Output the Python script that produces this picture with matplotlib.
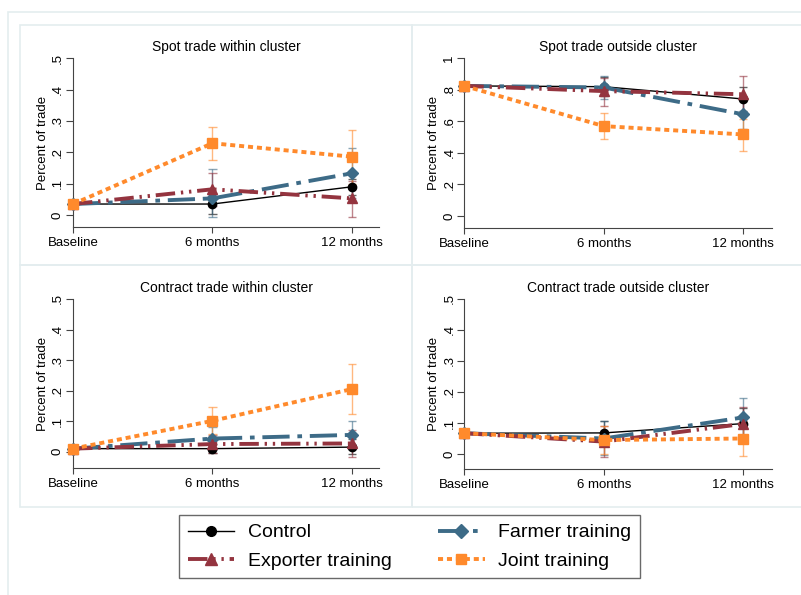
import numpy as np
import matplotlib
matplotlib.use('Agg')
import matplotlib.pyplot as plt
from matplotlib.patches import Rectangle
from matplotlib.lines import Line2D

plt.rcParams['font.family'] = ['Liberation Sans', 'DejaVu Sans']

periods = ['Baseline', '6 months', '12 months']
groups = ['Control', 'Exporter training', 'Farmer training', 'Joint training']

# Spot trade within cluster: mean, lower, upper
sw_mean = {'Control': [0.035, 0.035, 0.090], 'Exporter training': [0.035, 0.082, 0.053],
           'Farmer training': [0.035, 0.053, 0.133], 'Joint training': [0.035, 0.229, 0.186]}
sw_lo = {'Control': [0.035, 0.002, 0.065], 'Exporter training': [0.035, 0.030, -0.005],
         'Farmer training': [0.035, -0.005, 0.055], 'Joint training': [0.035, 0.177, 0.100]}
sw_hi = {'Control': [0.035, 0.068, 0.115], 'Exporter training': [0.035, 0.133, 0.110],
         'Farmer training': [0.035, 0.147, 0.213], 'Joint training': [0.035, 0.281, 0.272]}

# Spot trade outside cluster
so_mean = {'Control': [0.825, 0.820, 0.742], 'Exporter training': [0.825, 0.792, 0.772],
           'Farmer training': [0.825, 0.815, 0.645], 'Joint training': [0.825, 0.570, 0.517]}
so_lo = {'Control': [0.825, 0.760, 0.665], 'Exporter training': [0.825, 0.700, 0.645],
         'Farmer training': [0.825, 0.745, 0.550], 'Joint training': [0.825, 0.490, 0.415]}
so_hi = {'Control': [0.825, 0.880, 0.820], 'Exporter training': [0.825, 0.875, 0.885],
         'Farmer training': [0.825, 0.885, 0.740], 'Joint training': [0.825, 0.650, 0.615]}

# Contract trade within cluster
cw_mean = {'Control': [0.010, 0.010, 0.015], 'Exporter training': [0.010, 0.025, 0.027],
           'Farmer training': [0.010, 0.043, 0.055], 'Joint training': [0.010, 0.101, 0.205]}
cw_lo = {'Control': [0.010, -0.005, -0.008], 'Exporter training': [0.010, -0.005, -0.018],
         'Farmer training': [0.010, 0.005, 0.010], 'Joint training': [0.010, 0.058, 0.124]}
cw_hi = {'Control': [0.010, 0.025, 0.040], 'Exporter training': [0.010, 0.055, 0.070],
         'Farmer training': [0.010, 0.082, 0.102], 'Joint training': [0.010, 0.145, 0.287]}

# Contract trade outside cluster
co_mean = {'Control': [0.067, 0.068, 0.098], 'Exporter training': [0.067, 0.040, 0.097],
           'Farmer training': [0.067, 0.050, 0.118], 'Joint training': [0.067, 0.045, 0.050]}
co_lo = {'Control': [0.067, 0.030, 0.045], 'Exporter training': [0.067, -0.010, 0.040],
         'Farmer training': [0.067, -0.003, 0.060], 'Joint training': [0.067, 0.000, -0.005]}
co_hi = {'Control': [0.067, 0.105, 0.150], 'Exporter training': [0.067, 0.090, 0.153],
         'Farmer training': [0.067, 0.106, 0.180], 'Joint training': [0.067, 0.090, 0.105]}

titles = ['Spot trade within cluster', 'Spot trade outside cluster',
          'Contract trade within cluster', 'Contract trade outside cluster']
yticks_small = [0, 0.1, 0.2, 0.3, 0.4, 0.5]
ylabels_small = ['0', '.1', '.2', '.3', '.4', '.5']
yticks_big = [0, 0.2, 0.4, 0.6, 0.8, 1.0]
ylabels_big = ['0', '.2', '.4', '.6', '.8', '1']

styles = {
    'Control': dict(color='black', lw=1.0, ls='-', marker='o', ms=6),
    'Exporter training': dict(color='#94343F', lw=2.8, ls=(0, (5, 1.5, 0.6, 1.5, 0.6, 1.5)), marker='^', ms=7),
    'Farmer training': dict(color='#3D6B87', lw=2.8, ls=(0, (7, 2, 1.2, 2)), marker='D', ms=6.5),
    'Joint training': dict(color='#FF8A2C', lw=2.8, ls=(0, (1.3, 1.0)), marker='s', ms=6.5),
}
draw_order = ['Control', 'Farmer training', 'Exporter training', 'Joint training']

W, H = 801, 595
fig = plt.figure(figsize=(W / 100, H / 100), dpi=100)


def rect(x0, y0, x1, y1, **kw):
    fig.add_artist(Rectangle((x0 / W, 1 - y1 / H), (x1 - x0) / W, (y1 - y0) / H,
                             transform=fig.transFigure, fill=False, **kw))


# outer frame and panel boxes
frame_col = '#E4EDEF'
rect(8, 12, 830, 620, ec=frame_col, lw=1.2)
rect(20, 25, 412, 265, ec=frame_col, lw=1.2)
rect(412, 25, 830, 265, ec=frame_col, lw=1.2)
rect(20, 265, 412, 507, ec=frame_col, lw=1.2)
rect(412, 265, 830, 507, ec=frame_col, lw=1.2)

# (left, right_end, y_top_px, y_zero_px, y_axis_px, top value)
panels = [
    (73, 379, 58.3, 215.0, 227.3, 0.5, sw_mean, sw_lo, sw_hi),
    (464.3, 771.7, 58.3, 216.0, 228.3, 1.0, so_mean, so_lo, so_hi),
    (73, 379, 299.0, 451.7, 468.3, 0.5, cw_mean, cw_lo, cw_hi),
    (464.3, 771.7, 299.0, 454.0, 469.0, 0.5, co_mean, co_lo, co_hi),
]
x = np.arange(3)

for i, (l, r, yt, y0, yb, top, mean, lo, hi) in enumerate(panels):
    ax = fig.add_axes([l / W, 1 - yb / H, (r - l) / W, (yb - yt) / H])
    ppu_x = 139.4
    ax.set_xlim(0, (r - l) / ppu_x)
    ppu_y = (y0 - yt) / top
    ax.set_ylim(-(yb - y0) / ppu_y, top)
    for g in draw_order:
        st = styles[g]
        m = np.array(mean[g])
        lo_ = np.array(lo[g])
        hi_ = np.array(hi[g])
        ax.vlines(x[1:], lo_[1:], hi_[1:], color=st['color'], lw=1.0, alpha=0.6, zorder=2)
        ax.hlines(lo_[1:], x[1:] - 0.03, x[1:] + 0.03, color=st['color'], lw=1.0, alpha=0.6, zorder=2)
        ax.hlines(hi_[1:], x[1:] - 0.03, x[1:] + 0.03, color=st['color'], lw=1.0, alpha=0.6, zorder=2)
        ax.plot(x, m, color=st['color'], lw=st['lw'], ls=st['ls'], marker=st['marker'],
                ms=st['ms'], mec=st['color'], mfc=st['color'], clip_on=False, zorder=3)
    for s in ['top', 'right']:
        ax.spines[s].set_visible(False)
    for s in ['left', 'bottom']:
        ax.spines[s].set_color('#444444')
        ax.spines[s].set_linewidth(0.8)
    if top == 1.0:
        ax.set_yticks(yticks_big)
        ax.set_yticklabels(ylabels_big)
    else:
        ax.set_yticks(yticks_small)
        ax.set_yticklabels(ylabels_small)
    ax.set_xticks(x)
    ax.set_xticklabels(periods)
    ax.tick_params(axis='y', direction='out', length=5, width=0.8, color='#444444',
                   labelsize=9.5, pad=1.5, labelrotation=90)
    for t in ax.get_yticklabels():
        t.set_va('center')
    ax.tick_params(axis='x', direction='out', length=4, width=0.8, color='#444444',
                   labelsize=9.5, pad=3)
    ax.set_ylabel('Percent of trade', fontsize=9.5, labelpad=2)
    ax.set_title(titles[i], fontsize=10, pad=5)
    ax.patch.set_visible(False)

# legend
handles = []
for g in groups:
    st = styles[g]
    handles.append(Line2D([], [], color=st['color'], lw=st['lw'], ls=st['ls'], marker=st['marker'],
                          ms=st['ms'] + 1, mec=st['color'], mfc=st['color']))
leg = fig.legend(handles, groups, ncol=2, loc='upper left',
                 bbox_to_anchor=(179 / W, 1 - 581 / H, (640 - 179) / W, 66 / H),
                 mode='expand', fontsize=14, frameon=True, fancybox=False,
                 handlelength=2.4, handletextpad=0.7, borderpad=0.45, borderaxespad=0.0,
                 labelspacing=0.55, columnspacing=1.5, markerscale=1.0)
leg.get_frame().set_edgecolor('#444444')
leg.get_frame().set_linewidth(1.0)

fig.savefig('out.png', dpi=100)
